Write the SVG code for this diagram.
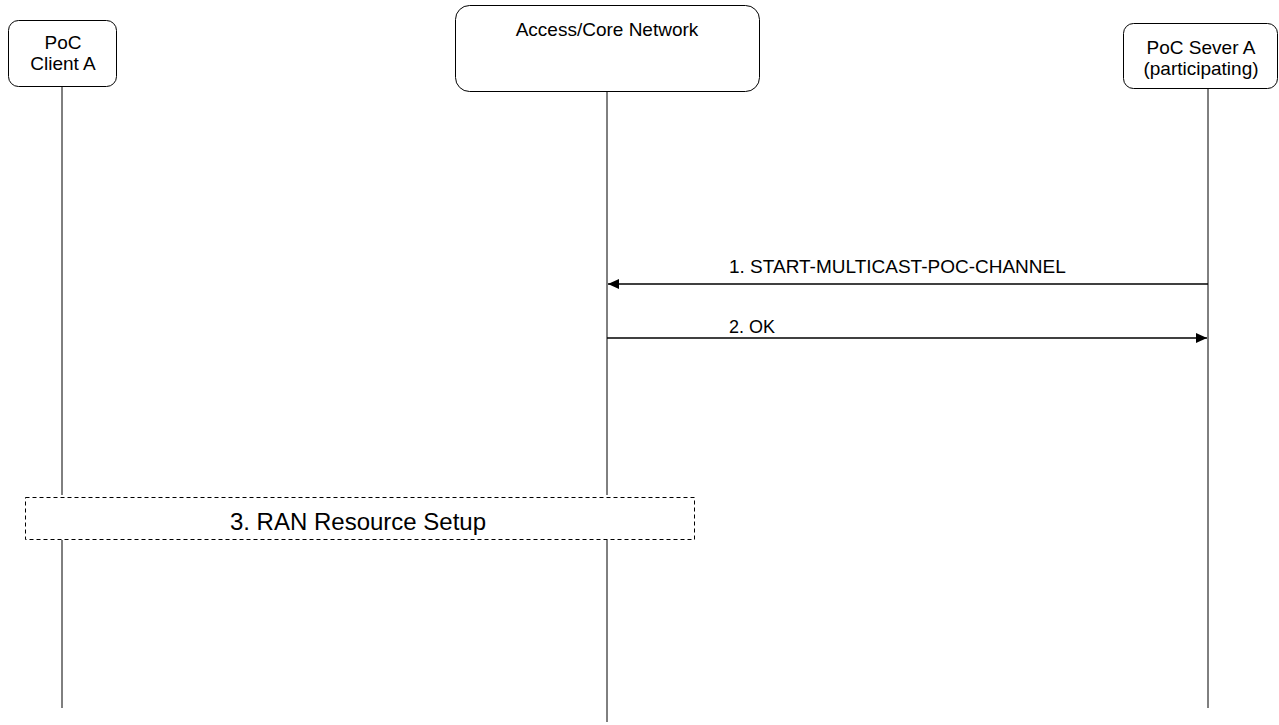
<svg xmlns="http://www.w3.org/2000/svg" width="1279" height="725" viewBox="0 0 1279 725">
<style>
.box{fill:#fff;stroke:#000;stroke-width:1}
.t{font-family:"Liberation Sans",Arial,sans-serif;font-size:19px;fill:#000;text-anchor:middle}
.lt{font-family:"Liberation Sans",Arial,sans-serif;font-size:19px;fill:#000}
.ll{stroke:#000;stroke-width:1;fill:none}
.msg{stroke:#000;stroke-width:1.5;fill:none}
</style>
<defs>
<marker id="ah" markerWidth="11" markerHeight="10" refX="11" refY="5" orient="auto" markerUnits="userSpaceOnUse">
<path d="M0,0 L11,5 L0,10 Z" fill="#000"/>
</marker>
</defs>
<rect width="1279" height="725" fill="#fff"/>
<g id="lifelines">
<line class="ll" x1="62" y1="87" x2="62" y2="495"/>
<line class="ll" x1="62" y1="540" x2="62" y2="708"/>
<line class="ll" x1="607" y1="92" x2="607" y2="495"/>
<line class="ll" x1="607" y1="540" x2="607" y2="722"/>
<line class="ll" x1="1208" y1="88" x2="1208" y2="708"/>
</g>
<g id="client">
<rect class="box" x="8.5" y="20.5" width="108" height="66" rx="10"/>
<text class="t" x="63" y="49">PoC</text>
<text class="t" x="63" y="70">Client A</text>
</g>
<g id="network">
<rect class="box" x="455.5" y="5.5" width="304" height="86" rx="14"/>
<text class="t" x="607" y="36">Access/Core Network</text>
</g>
<g id="server">
<rect class="box" x="1123.5" y="23.5" width="154" height="65" rx="10"/>
<text class="t" x="1201" y="54">PoC Sever A</text>
<text class="t" x="1201" y="75">(participating)</text>
</g>
<g id="connectors">
<line class="msg" x1="1208" y1="284" x2="608" y2="284" marker-end="url(#ah)"/>
<text class="lt" x="729" y="273">1. START-MULTICAST-POC-CHANNEL</text>
<line class="msg" x1="607" y1="338" x2="1207" y2="338" marker-end="url(#ah)"/>
<text class="lt" x="729" y="333" style="font-size:18px">2. OK</text>
</g>
<g id="ran">
<rect x="25.5" y="497.5" width="669" height="42" fill="#fff" stroke="#000" stroke-width="1" stroke-dasharray="4,3"/>
<text class="t" x="358" y="530" style="font-size:24px">3. RAN Resource Setup</text>
</g>
</svg>
